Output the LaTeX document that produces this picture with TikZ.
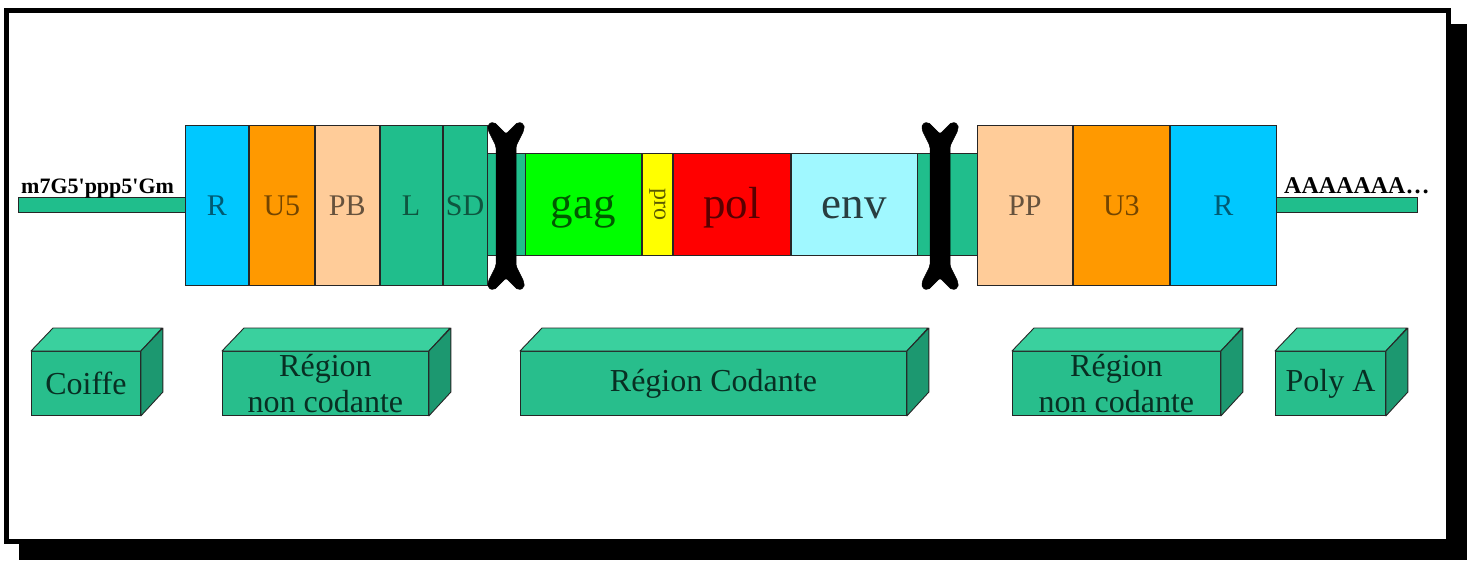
\documentclass[tikz,border=0pt]{standalone}
\usepackage{fontspec}
\setmainfont{Liberation Serif}
\usetikzlibrary{positioning}

\definecolor{rblue}{RGB}{0,200,255}
\definecolor{uorange}{RGB}{255,153,0}
\definecolor{ppeach}{RGB}{255,204,153}
\definecolor{teal}{RGB}{32,190,140}
\definecolor{gaggreen}{RGB}{0,255,0}
\definecolor{proyellow}{RGB}{255,255,0}
\definecolor{polred}{RGB}{255,0,0}
\definecolor{envcyan}{RGB}{160,248,255}
\definecolor{boxfront}{RGB}{40,190,140}
\definecolor{boxtop}{RGB}{58,208,158}
\definecolor{boxside}{RGB}{28,152,112}

\begin{document}
\begin{tikzpicture}[x=1pt,y=-1pt,
  seg/.style={draw=black!85,line width=0.9pt,anchor=west,inner sep=0pt,
              minimum height=160pt,text height=24pt,text depth=4pt,
              font=\fontsize{30}{32}\selectfont},
  gene/.style={draw=black!85,line width=0.9pt,anchor=west,inner sep=0pt,
              minimum height=102pt,text height=36pt,text depth=8pt,
              font=\fontsize{45}{47}\selectfont},
  tail/.style={draw=black!85,line width=0.9pt,fill=teal,anchor=west,inner sep=0pt,
              minimum height=15pt},
  endlabel/.style={anchor=base west,inner sep=0pt,font=\fontsize{22}{24}\selectfont\bfseries},
  boxfront/.style={draw=black!85,line width=0.9pt,fill=boxfront,anchor=north west,
              inner sep=0pt,minimum height=64pt,align=center,text=black!75!teal,
              font=\fontsize{32}{36}\selectfont},
  faceline/.style={draw=black!85,line width=0.9pt,line join=round},
  spool/.style={fill=black,draw=black,line width=0.5pt,rounded corners=2pt}]

  \useasboundingbox (0,0) rectangle (1467,560);
  % frame with shadow
  \fill[black] (19,24) rectangle (1467,560);
  \draw[fill=white,line width=5pt] (6.5,10.5) rectangle (1448,541);

  % 5' cap and polyA tails
  \node[tail,minimum width=167pt] (capbar) at (18,204.5) {};
  \node[endlabel] (caplab) at (21,193) {m7G5\textquotesingle ppp5\textquotesingle Gm};
  \node[tail,minimum width=143pt] (polybar) at (1274,204.5) {};
  \node[endlabel,font=\fontsize{24}{26}\selectfont\bfseries] (polylab) at (1284,193) {AAAAAAA\ldots};

  % narrow body behind the genes
  \node[gene,fill=teal,minimum width=494pt] (body) at (483,204) {};

  % 5' LTR side
  \node[seg,fill=rblue,text=rblue!45!black,minimum width=63pt]      (r5) at (185,205) {R};
  \node[seg,fill=uorange,text=uorange!45!black,minimum width=65pt]  (u5) at (r5.east) {U5};
  \node[seg,fill=ppeach,text=ppeach!40!black,minimum width=64pt]    (pb) at (u5.east) {PB};
  \node[seg,fill=teal,text=teal!45!black,minimum width=62pt]        (l)  at (pb.east) {L};
  \node[seg,fill=teal,text=teal!45!black,minimum width=44pt]        (sd) at (l.east) {SD};

  % coding genes
  \node[gene,fill=gaggreen,text=gaggreen!35!black,minimum width=116pt] (gag) at (525,204) {gag};
  \node[gene,fill=proyellow,minimum width=30pt] (pro) at (gag.east) {};
  \node[rotate=-90,font=\fontsize{24}{26}\selectfont,text=proyellow!35!black,inner sep=0pt] (prolab) at (pro.center) {pro};
  \node[gene,fill=polred,text=polred!35!black,minimum width=117pt]   (pol) at (pro.east) {pol};
  \node[gene,fill=envcyan,text=envcyan!25!black,minimum width=126pt] (env) at (pol.east) {env};

  % 3' LTR side
  \node[seg,fill=ppeach,text=ppeach!40!black,minimum width=95pt]    (pp) at (977,205) {PP};
  \node[seg,fill=uorange,text=uorange!45!black,minimum width=96pt]  (u3) at (pp.east) {U3};
  \node[seg,fill=rblue,text=rblue!45!black,minimum width=106pt]     (r3) at (u3.east) {R};

  % the two brackets
  \foreach \c in {506,940} {
    \path[spool] (\c-18,124) -- (\c-12,122) -- (\c,134) -- (\c+12,122) -- (\c+18,124)
      -- (\c+18,130) -- (\c+10,146) -- (\c+10,266) -- (\c+18,282) -- (\c+18,288)
      -- (\c+12,290) -- (\c,278) -- (\c-12,290) -- (\c-18,288) -- (\c-18,282)
      -- (\c-10,266) -- (\c-10,146) -- (\c-18,130) -- cycle;
  }

  % region boxes
  \foreach \n/\xa/\w/\t in {coiffe/31/109/Coiffe, ncode/222/206/{Région\\non codante},
                            code/520/386/Région Codante, ncodb/1012/208/{Région\\non codante},
                            polya/1275/110/Poly A} {
    \node[boxfront,minimum width=\w pt] (\n) at (\xa,351) {\t};
    \draw[faceline,fill=boxtop] (\n.north west) -- ++(22,-23) -- ++(\w,0) -- (\n.north east) -- cycle;
    \draw[faceline,fill=boxside] (\n.north east) -- ++(22,-23) -- ++(0,64) -- (\n.south east) -- cycle;
  }
\end{tikzpicture}
\end{document}
